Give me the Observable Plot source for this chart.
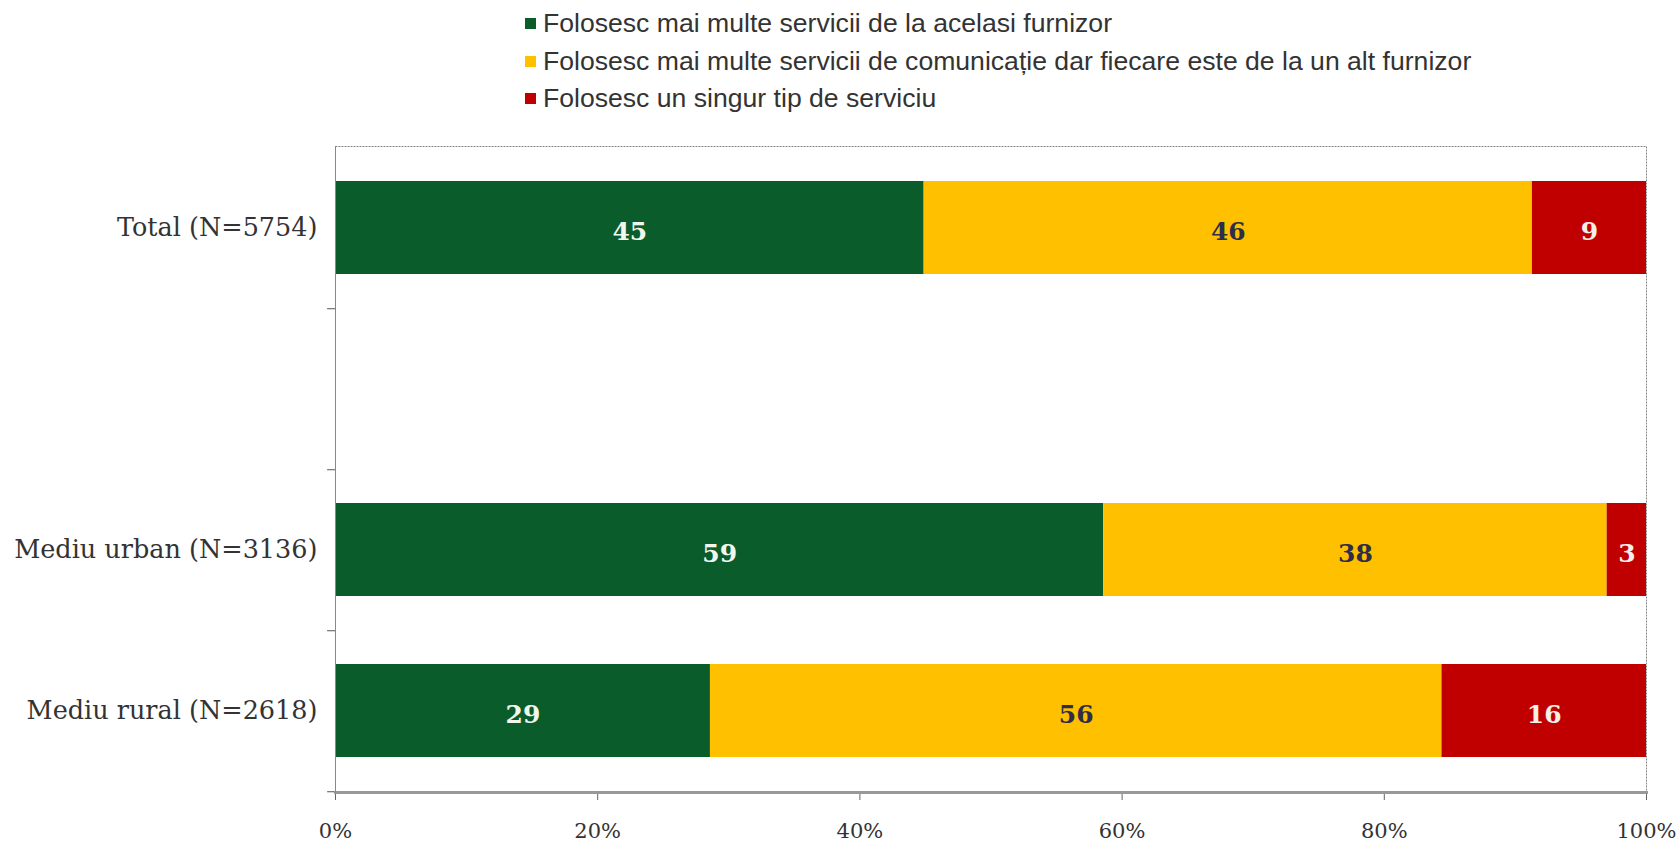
<!DOCTYPE html>
<html>
<head>
<meta charset="utf-8">
<script src="https://cdn.jsdelivr.net/npm/d3@7"></script>
<script src="https://cdn.jsdelivr.net/npm/@observablehq/plot@0.6"></script>
<style>
  html, body { margin: 0; padding: 0; background: #fff; }
  #wrap { position: relative; width: 1679px; height: 842px; }
  #legend { position: absolute; left: 525px; top: 5px; font-family: "Liberation Sans", Arial, sans-serif; font-size: 26.6px; color: #333; }
  #legend .row { display: flex; align-items: center; height: 37.5px; }
  #legend .sw { width: 11px; height: 11px; margin-right: 7px; }
  #chart { position: absolute; left: 0; top: 0; }
</style>
</head>
<body>
<div id="wrap">
  <div id="chart"></div>
  <div id="legend"></div>
</div>
<script>
const categories = ["Total (N=5754)", " ", "Mediu urban (N=3136)", "Mediu rural (N=2618)"];
const series = [
  "Folosesc mai multe servicii de la acelasi furnizor",
  "Folosesc mai multe servicii de comunicație dar fiecare este de la un alt furnizor",
  "Folosesc un singur tip de serviciu"
];
const colors = ["#0A5C2B", "#FFC000", "#C00000"];
const labelColors = ["#F2F7EE", "#2E2E4A", "#F7F0EA"];
// values per category, in series order
const totalValues = [44.9, 46.4, 8.7];
const urbanValues = [58.6, 38.4, 3.0];
const ruralValues = [28.6, 55.8, 15.6];
const xTicks = [0, 20, 40, 60, 80, 100];

const rows = [];
[[categories[0], totalValues], [categories[2], urbanValues], [categories[3], ruralValues]].forEach(([cat, vals]) => {
  vals.forEach((v, i) => rows.push({cat, series: series[i], value: v, idx: i}));
});

const W = 1679, H = 842;
const mL = 335, mR = 33, mT = 146, mB = 50;
const step = (H - mT - mB) / categories.length;

const serif = "'DejaVu Serif', Georgia, serif";

const chart = Plot.plot({
  width: W,
  height: H,
  marginLeft: mL,
  marginRight: mR,
  marginTop: mT,
  marginBottom: mB,
  style: {fontFamily: serif, background: "transparent"},
  x: {domain: [0, 100], ticks: xTicks, tickFormat: d => d + "%", label: null},
  y: {domain: categories, paddingInner: 0.42, paddingOuter: 0.21, label: null},
  color: {domain: series, range: colors},
  marks: [
    Plot.frame({stroke: "#888", strokeDasharray: "2,1", strokeWidth: 1}),
    Plot.barX(rows, Plot.stackX({x: "value", y: "cat", fill: "series", order: series})),
    Plot.text(rows, Plot.stackX({
      x: "value", y: "cat", z: "series", order: series,
      text: d => String(Math.round(d.value)),
      fill: d => labelColors[d.idx],
      fontWeight: "bold", fontSize: 25, fontFamily: serif, dy: 4
    })),
    Plot.ruleY(categories, {y: d => d, x1: -0.6, x2: 0, dy: step / 2, stroke: "#555", strokeWidth: 1, clip: false}),
    Plot.axisY({tickSize: 0, tickPadding: 18, fontSize: 25.5, fill: "#333", fontFamily: serif}),
    Plot.axisX({ticks: xTicks, tickFormat: d => d + "%", tickSize: 8, tickPadding: 23, fontSize: 21, fill: "#333", stroke: "#666", fontFamily: serif}),
    Plot.frame({anchor: "bottom", stroke: "#999", strokeWidth: 3}),
    Plot.frame({anchor: "left", stroke: "#888", strokeDasharray: "2,1"})
  ]
});
document.getElementById("chart").appendChild(chart);

const legend = document.getElementById("legend");
series.forEach((s, i) => {
  const row = document.createElement("div");
  row.className = "row";
  const sw = document.createElement("span");
  sw.className = "sw";
  sw.style.background = colors[i];
  const t = document.createElement("span");
  t.textContent = s;
  row.appendChild(sw);
  row.appendChild(t);
  legend.appendChild(row);
});
</script>
</body>
</html>
